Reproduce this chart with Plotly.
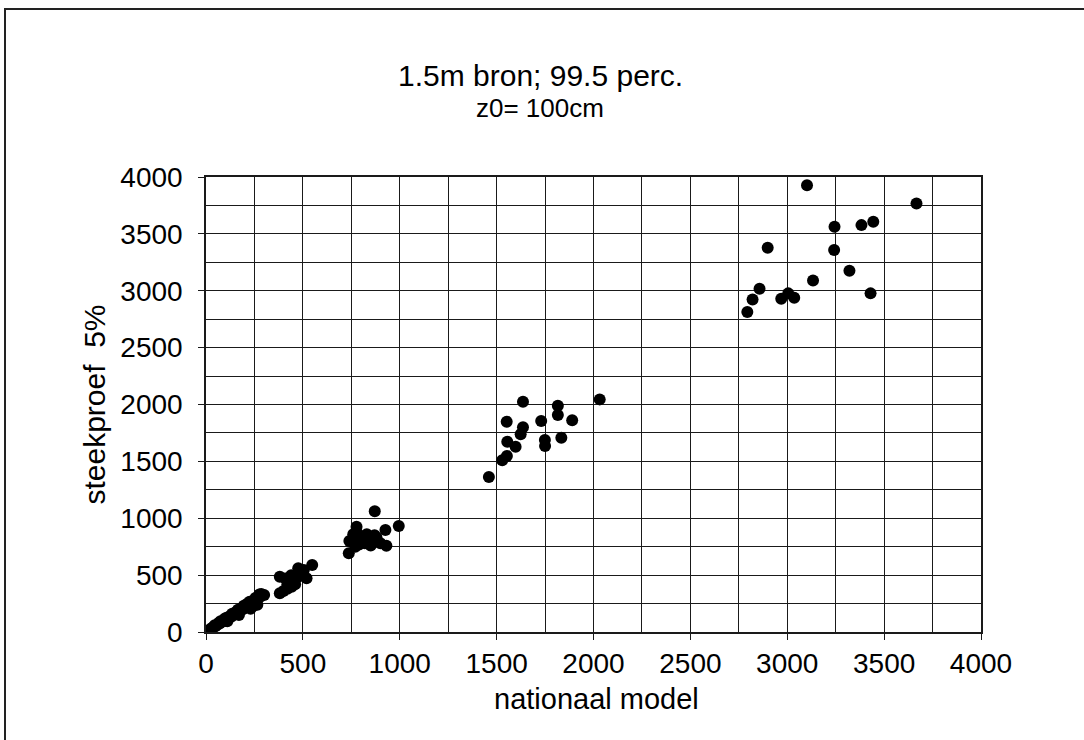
import plotly.graph_objects as go

# nationaal model (x) vs steekproef 5% (y)
x_low = [10, 20, 30, 35, 40, 50, 60, 65, 70, 80, 90, 95, 100, 110, 120, 125, 130, 140, 150, 155,
         160, 170, 180, 185, 190, 200, 210, 215, 220, 230, 240, 245, 250, 260, 270, 275, 280, 300,
         45, 75, 105, 135, 165, 195, 225, 255, 285, 110, 170, 230, 265]
y_low = [8, 22, 30, 40, 45, 52, 65, 80, 75, 88, 95, 115, 110, 118, 130, 140, 135, 150, 160, 175,
         170, 180, 195, 210, 200, 215, 225, 250, 240, 245, 260, 230, 270, 290, 300, 330, 310, 325,
         60, 95, 125, 160, 195, 230, 265, 300, 335, 95, 150, 205, 240]

x_mid1 = [381, 400, 420, 442, 460, 381, 410, 430, 450, 476, 490, 500, 519, 548, 470, 440, 505, 420]
y_mid1 = [340, 360, 380, 398, 420, 486, 470, 440, 460, 560, 500, 520, 472, 589, 480, 500, 545, 420]

x_mid2 = [871, 995, 926, 777, 931, 737, 760, 780, 800, 820, 840, 860, 880, 900, 770, 790, 830,
          850, 760, 810, 870, 740, 780]
y_mid2 = [1061, 932, 897, 926, 759, 692, 860, 800, 840, 780, 820, 800, 830, 780, 750, 770, 860,
          760, 820, 810, 850, 800, 870]

x_hi1 = [1636, 2032, 1816, 1816, 1552, 1730, 1890, 1636, 1624, 1834, 1555, 1749, 1750, 1598,
         1553, 1529, 1460]
y_hi1 = [2024, 2045, 1989, 1907, 1849, 1855, 1861, 1799, 1738, 1708, 1673, 1688, 1635, 1629,
         1547, 1509, 1362]

x_hi2 = [3102, 3667, 3244, 3383, 3444, 2899, 3242, 3321, 3133, 2857, 2821, 2969, 3005, 3036,
         3430, 2794]
y_hi2 = [3927, 3768, 3563, 3577, 3607, 3378, 3358, 3176, 3091, 3018, 2924, 2930, 2977, 2939,
         2977, 2813]

x_all = x_low + x_mid1 + x_mid2 + x_hi1 + x_hi2
y_all = y_low + y_mid1 + y_mid2 + y_hi1 + y_hi2

tick_vals = [0, 500, 1000, 1500, 2000, 2500, 3000, 3500, 4000]
tick_text = [str(v) for v in tick_vals]

title_text = "1.5m bron; 99.5 perc."
subtitle_text = "z0= 100cm"
x_title = "nationaal model"
y_title = "steekproef  5%"

FONT = "Liberation Sans, Arial, sans-serif"
GRID = "#1a1a1a"

L, R, T, B = 206, 103, 177, 108
W, H = 1084, 740
pw = W - L - R
ph = H - T - B


def px_x(px):
    return (px - L) / pw


def px_y(py):
    return (H - B - py) / ph


fig = go.Figure(go.Scatter(
    x=x_all, y=y_all, mode="markers",
    marker=dict(color="black", size=12, line=dict(width=0)),
    showlegend=False,
))

axis_common = dict(
    range=[0, 4000], tickvals=tick_vals, ticktext=tick_text,
    showgrid=True, gridcolor=GRID, gridwidth=1,
    minor=dict(dtick=250, tick0=0, showgrid=True, gridcolor=GRID, gridwidth=1),
    ticks="outside", ticklen=6, tickcolor=GRID, tickwidth=1,
    showline=True, mirror=True, linecolor=GRID, linewidth=1.5,
    zeroline=False, tickfont=dict(size=28, color="black", family=FONT),
    fixedrange=True,
)

fig.update_xaxes(**axis_common, ticklabelstandoff=0)
fig.update_yaxes(**axis_common, ticklabelstandoff=10,
                 title=dict(text=y_title, font=dict(size=30, color="black", family=FONT),
                            standoff=6))

fig.update_layout(
    width=W, height=H,
    margin=dict(l=L, r=R, t=T, b=B),
    paper_bgcolor="white", plot_bgcolor="white",
    font=dict(family=FONT, color="black"),
    annotations=[
        dict(text=title_text, x=px_x(540), y=px_y(76), xref="paper", yref="paper",
             xanchor="center", yanchor="middle",
             showarrow=False, font=dict(size=30, color="black", family=FONT)),
        dict(text=subtitle_text, x=px_x(540), y=px_y(108), xref="paper", yref="paper",
             xanchor="center", yanchor="middle",
             showarrow=False, font=dict(size=26, color="black", family=FONT)),
        dict(text=x_title, x=px_x(596), y=px_y(699), xref="paper", yref="paper",
             xanchor="center", yanchor="middle",
             showarrow=False, font=dict(size=29, color="black", family=FONT)),
    ],
    shapes=[
        dict(type="rect", xref="paper", yref="paper",
             x0=px_x(5), x1=px_x(1095), y0=px_y(760), y1=px_y(9),
             line=dict(color="#222", width=2), fillcolor="rgba(0,0,0,0)", layer="below"),
    ],
)

fig.write_html("out.html")
